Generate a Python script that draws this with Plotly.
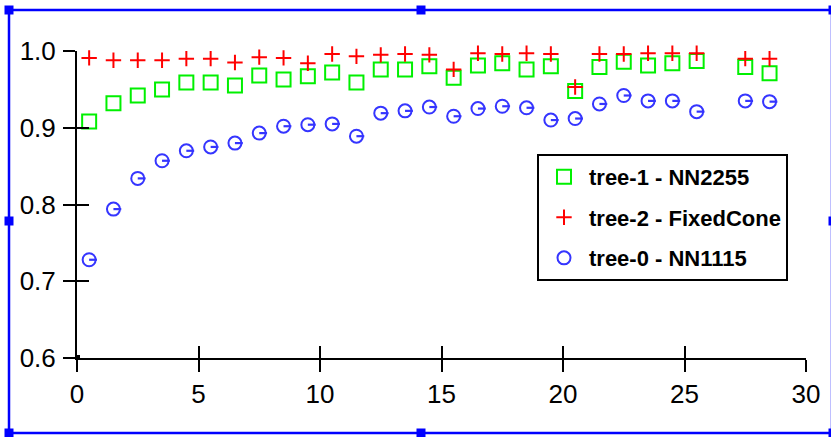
import plotly.graph_objects as go

# ---- data ----
x_vals = [0.5, 1.5, 2.5, 3.5, 4.5, 5.5, 6.5, 7.5, 8.5, 9.5, 10.5, 11.5, 12.5, 13.5,
          14.5, 15.5, 16.5, 17.5, 18.5, 19.5, 20.5, 21.5, 22.5, 23.5, 24.5, 25.5,
          27.5, 28.5]
tree1_nn2255 = [0.908, 0.932, 0.942, 0.950, 0.959, 0.959, 0.955, 0.968, 0.963, 0.967,
                0.972, 0.959, 0.976, 0.976, 0.980, 0.965, 0.981, 0.984, 0.976, 0.980,
                0.948, 0.979, 0.986, 0.981, 0.984, 0.987, 0.979, 0.971]
tree2_fixedcone = [0.991, 0.988, 0.988, 0.988, 0.990, 0.990, 0.985, 0.992, 0.991, 0.984,
                   0.996, 0.993, 0.995, 0.996, 0.995, 0.976, 0.997, 0.996, 0.997, 0.996,
                   0.953, 0.996, 0.996, 0.997, 0.997, 0.997, 0.990, 0.990]
tree0_nn1115 = [0.728, 0.794, 0.834, 0.857, 0.870, 0.875, 0.880, 0.893, 0.902, 0.904,
                0.905, 0.889, 0.919, 0.922, 0.927, 0.915, 0.925, 0.928, 0.926, 0.910,
                0.912, 0.931, 0.942, 0.935, 0.935, 0.921, 0.935, 0.934]
series_names = ["tree-1 - NN2255", "tree-2 - FixedCone", "tree-0 - NN1115"]
x_ticks = [0, 5, 10, 15, 20, 25, 30]
y_ticks = [0.6, 0.7, 0.8, 0.9, 1.0]

GREEN = "#00f000"
RED = "#ff0000"
BLUE = "#3535ff"
FONT = "Liberation Sans, Arial, sans-serif"

fig = go.Figure()
fig.add_trace(go.Scatter(
    x=x_vals, y=tree1_nn2255, mode="markers", name=series_names[0],
    legendgroup="g1", cliponaxis=False,
    marker=dict(symbol="square-open", size=14, color=GREEN, line=dict(width=2, color=GREEN))))
fig.add_trace(go.Scatter(
    x=x_vals, y=tree2_fixedcone, mode="markers", name=series_names[1],
    legendgroup="g2", cliponaxis=False,
    marker=dict(symbol="cross-thin-open", size=11, color=RED, line=dict(width=2, color=RED))))
fig.add_trace(go.Scatter(
    x=x_vals, y=tree0_nn1115, mode="markers", name=series_names[2],
    legendgroup="g3", cliponaxis=False,
    marker=dict(symbol="circle-open", size=13, color=BLUE, line=dict(width=2, color=BLUE))))
# tail line from circle centre to right edge
fig.add_trace(go.Scatter(
    x=x_vals, y=tree0_nn1115, mode="markers", showlegend=False,
    legendgroup="g3", cliponaxis=False, hoverinfo="skip",
    marker=dict(symbol="line-ns", size=5.6, angle=-90, standoff=3.9,
                color=BLUE, line=dict(width=2.2, color=BLUE))))

# dummy traces so the overlay axes (inner half of the crossing ticks) get drawn
fig.add_trace(go.Scatter(x=[None], y=[None], xaxis="x2", yaxis="y", showlegend=False,
                         hoverinfo="skip"))
fig.add_trace(go.Scatter(x=[None], y=[None], xaxis="x", yaxis="y2", showlegend=False,
                         hoverinfo="skip"))

axis_common = dict(showgrid=False, zeroline=False, color="black",
                   tickfont=dict(family=FONT, size=26, color="black"))
fig.update_layout(
    width=831, height=437,
    margin=dict(l=77, r=25, t=51, b=79),
    paper_bgcolor="white", plot_bgcolor="white",
    xaxis=dict(range=[0, 30], tickvals=x_ticks, ticks="outside", ticklen=12, tickwidth=2,
               tickcolor="black", showline=True, linewidth=2, linecolor="black",
               ticklabelstandoff=0, **axis_common),
    yaxis=dict(range=[0.6, 1.0], tickvals=y_ticks, tickformat=".1f", ticks="outside",
               ticklen=12, tickwidth=2, tickcolor="black", showline=True, linewidth=2,
               linecolor="black", ticklabelstandoff=2, **axis_common),
    xaxis2=dict(range=[0, 30], tickvals=x_ticks, overlaying="x", anchor="y", side="bottom",
                ticks="inside", ticklen=12, tickwidth=2, tickcolor="black",
                showticklabels=False, showline=False, showgrid=False, zeroline=False),
    yaxis2=dict(range=[0.6, 1.0], tickvals=y_ticks, overlaying="y", anchor="x", side="left",
                ticks="inside", ticklen=12, tickwidth=2, tickcolor="black",
                showticklabels=False, showline=False, showgrid=False, zeroline=False),
    legend=dict(x=0.631, y=0.665, xanchor="left", yanchor="top",
                bordercolor="black", borderwidth=2, bgcolor="white",
                font=dict(family=FONT, size=22, color="black", weight="bold"),
                traceorder="grouped", tracegroupgap=9, itemwidth=40),
    showlegend=True,
)

# selection frame (decoration) in paper coords computed from pixel positions
L, T, W, H = 77, 51, 729, 307
def px(xp):
    return (xp - L) / W
def py(yp):
    return (T + H - yp) / H

fig.add_shape(type="rect", xref="paper", yref="paper",
              x0=px(9), x1=px(832), y0=py(433), y1=py(10),
              line=dict(color="#0000ff", width=2.5), layer="above")
for hx, hy in [(9, 10), (421, 10), (833, 10), (9, 221), (833, 221),
               (9, 433), (421, 433), (833, 433)]:
    fig.add_shape(type="rect", xref="paper", yref="paper",
                  xsizemode="pixel", ysizemode="pixel",
                  xanchor=px(hx), yanchor=py(hy), x0=-4.5, x1=4.5, y0=-4.5, y1=4.5,
                  line=dict(width=0), fillcolor="#0000ff", layer="above")
# small dot at origin
fig.add_shape(type="rect", xref="x", yref="y", xsizemode="pixel", ysizemode="pixel",
              xanchor=0, yanchor=0.6, x0=-3, x1=3, y0=-3, y1=3,
              line=dict(width=0), fillcolor="black", layer="above")

fig.write_html("out.html")
